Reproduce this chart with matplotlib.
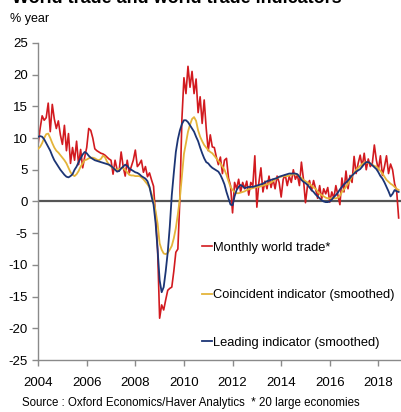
import numpy as np
import matplotlib
matplotlib.use('Agg')
import matplotlib.pyplot as plt

plt.rcParams['font.family'] = ['Liberation Sans', 'DejaVu Sans']
plt.rcParams['axes.unicode_minus'] = False

# monthly values, Jan 2004 - Nov 2018 (% year)
world_trade = [
    9.0, 11.5, 13.5, 12.8, 13.2, 15.5, 11.0, 15.3, 13.0, 11.5, 12.7, 10.5,   # 2004
    9.0, 12.0, 8.0, 10.7, 6.0, 8.5, 6.5, 9.5, 5.8, 8.2, 5.3, 7.0,           # 2005
    8.5, 11.5, 11.2, 10.0, 8.3, 8.0, 7.8, 7.6, 7.5, 7.3, 7.0, 6.7,          # 2006
    6.5, 4.3, 6.5, 5.0, 4.8, 7.8, 5.5, 4.0, 6.5, 4.5, 5.5, 6.5,             # 2007
    8.1, 5.5, 5.9, 6.5, 4.6, 5.5, 3.9, 4.5, 3.4, 2.4, -2.4, -7.6,           # 2008
    -18.4, -16.3, -17.1, -15.5, -14.0, -13.7, -13.5, -11.0, -8.0, -7.5, 0.5, 13.0,  # 2009
    19.5, 17.0, 21.3, 18.0, 20.5, 17.0, 19.3, 14.0, 16.5, 12.3, 16.0, 11.5,  # 2010
    8.0, 10.5, 8.6, 8.5, 7.0, 5.8, 7.0, 4.4, 6.5, 6.8, 3.7, 2.5,            # 2011
    -1.8, 3.0, 2.0, 3.5, 1.5, 3.0, 2.0, 3.2, 1.0, 3.0, 2.5, 7.2,            # 2012
    -0.9, 3.0, 5.3, 1.5, 3.2, 2.0, 4.0, 2.2, 3.5, 2.0, 4.0, 3.0,            # 2013
    0.7, 3.5, 4.2, 2.5, 4.0, 3.0, 5.0, 3.5, 4.2, 2.5, 6.2, 3.5,             # 2014
    -0.2, 2.5, 3.3, 1.7, 3.3, 2.0, 0.5, 2.5, 0.4, 2.0, 1.2, 2.2,            # 2015
    -0.1, 1.5, 0.5, 2.5, 1.0, -0.5, 3.7, 1.5, 4.8, 2.0, 4.1, 3.0,           # 2016
    7.1, 4.4, 6.0, 7.3, 5.5, 7.6, 5.0, 6.7, 5.5, 6.0, 8.9, 6.5,             # 2017
    5.0, 7.2, 4.1, 5.5, 7.2, 4.4, 5.9, 5.0, 2.8, 1.7, -2.6,                 # 2018
]

coincident = [
    8.3, 8.6, 9.2, 10.0, 10.6, 10.7, 10.0, 9.2, 8.5, 8.0, 7.7, 7.3,
    6.9, 6.5, 6.0, 5.3, 4.6, 4.2, 4.0, 4.3, 4.8, 5.5, 6.0, 6.5,
    6.6, 6.8, 6.9, 6.9, 6.8, 6.6, 6.5, 6.7, 7.2, 7.0, 6.3, 5.8,
    5.5, 5.3, 5.1, 5.0, 5.1, 5.3, 5.2, 5.0, 4.6, 4.2, 4.1, 4.1,
    4.0, 4.0, 4.0, 3.8, 3.5, 3.1, 2.7, 2.2, 1.2, 0.2, -1.5, -3.5,
    -6.6, -7.6, -8.2, -8.3, -8.1, -7.6, -7.0, -5.8, -4.2, -2.0, 0.5, 4.0,
    7.5, 9.2, 11.0, 12.1, 13.0, 13.3, 12.7, 11.2, 10.2, 9.5, 8.9, 8.5,
    8.1, 7.8, 7.6, 7.2, 6.8, 6.4, 6.0, 5.5, 5.0, 4.2, 3.2, 2.3,
    1.8, 1.5, 1.3, 1.3, 1.4, 1.5, 1.6, 1.8, 1.9, 2.0, 2.1, 2.2,
    2.3, 2.3, 2.4, 2.5, 2.6, 2.7, 2.8, 3.0, 3.2, 3.5, 3.7, 3.8,
    3.9, 4.0, 4.0, 4.0, 4.1, 4.2, 4.3, 4.3, 4.2, 4.0, 3.7, 3.4,
    3.2, 3.0, 2.8, 2.5, 2.2, 2.0, 1.6, 1.2, 1.0, 0.8, 0.6, 0.5,
    0.5, 0.5, 0.5, 0.5, 0.6, 0.9, 1.5, 1.9, 2.3, 2.8, 3.3, 4.0,
    4.5, 5.0, 5.3, 5.6, 5.9, 6.1, 6.2, 6.1, 6.0, 5.8, 5.6, 5.5,
    5.2, 4.8, 4.4, 3.9, 3.4, 3.1, 2.8, 2.6, 2.3, 2.0, 1.8,
]

leading = [
    10.2, 10.3, 10.2, 9.8, 9.2, 8.6, 8.0, 7.2, 6.5, 6.0, 5.5, 5.0,
    4.6, 4.2, 3.9, 3.8, 4.0, 4.3, 5.0, 5.5, 6.2, 6.8, 7.4, 7.8,
    7.6, 7.2, 6.9, 6.7, 6.5, 6.4, 6.3, 6.2, 6.1, 6.0, 5.9, 5.8,
    5.6, 5.3, 5.0, 4.7, 4.8, 5.2, 5.5, 5.8, 5.6, 5.2, 5.0, 4.8,
    4.6, 4.5, 4.3, 4.0, 3.8, 3.6, 3.2, 2.3, 0.8, -0.5, -3.4, -7.6,
    -12.4, -14.3, -13.5, -11.0, -8.0, -4.0, 1.0, 4.5, 7.8, 9.8, 11.2, 12.2,
    12.8, 12.8, 12.5, 12.0, 11.5, 11.0, 10.2, 9.5, 8.5, 7.6, 6.8, 6.2,
    6.0, 5.6, 5.3, 5.1, 4.9, 4.7, 4.2, 3.5, 2.7, 1.5, 0.5, -0.5,
    -0.6, 0.8, 1.8, 2.3, 2.6, 2.4, 2.1, 2.2, 2.3, 2.3, 2.3, 2.4,
    2.5, 2.6, 2.7, 2.8, 3.0, 3.2, 3.3, 3.4, 3.5, 3.6, 3.7, 3.9,
    4.0, 4.1, 4.2, 4.3, 4.4, 4.4, 4.4, 4.4, 4.3, 3.9, 3.4, 3.1,
    2.9, 2.6, 2.2, 1.8, 1.5, 1.1, 0.8, 0.5, 0.2, 0.0, -0.1, -0.1,
    0.0, 0.3, 0.7, 1.0, 1.4, 1.9, 2.3, 2.7, 3.0, 3.3, 3.7, 4.1,
    4.4, 4.7, 4.9, 5.1, 5.5, 5.9, 6.2, 6.2, 6.0, 5.7, 5.4, 5.1,
    4.6, 4.0, 3.6, 3.0, 2.3, 1.6, 0.8, 1.2, 1.8, 1.6, 1.5,
]

dates = 2004 + np.arange(len(world_trade)) / 12.0

fig = plt.figure(figsize=(4.01, 4.12), dpi=100)
ax = fig.add_axes([0.095, 0.126, 0.905, 0.77])

ax.axhline(0, color='#555555', lw=1.6, zorder=1)
ax.plot(dates, world_trade, color='#d21a1f', lw=1.2, label='Monthly world trade*', zorder=2)
ax.plot(dates, coincident, color='#e4b43a', lw=1.3, label='Coincident indicator (smoothed)', zorder=3)
ax.plot(dates, leading, color='#1c3575', lw=1.3, label='Leading indicator (smoothed)', zorder=4)

ax.set_xlim(2004, 2018.93)
ax.set_ylim(-25, 25)
ax.set_yticks(np.arange(-25, 26, 5))
ax.set_xticks(np.arange(2004, 2019, 2))
for s in ['top', 'right']:
    ax.spines[s].set_visible(False)
for s in ['left', 'bottom']:
    ax.spines[s].set_color('#8a8a8a')
    ax.spines[s].set_linewidth(1.0)
ax.tick_params(axis='both', colors='#8a8a8a', labelcolor='black', labelsize=9.5, length=4, width=1.0)
ax.tick_params(axis='x', pad=8)

ax.legend(loc='upper left', bbox_to_anchor=(0.437, 0.39), frameon=False, fontsize=9.3,
          handlelength=0.8, handletextpad=0.1, labelspacing=2.75, borderaxespad=0)

fig.text(0.03, 1.003, 'World trade and world trade indicators', fontsize=13, fontweight='bold', va='center')
fig.text(0.025, 0.955, '% year', fontsize=9, va='center')
fig.text(0.055, 0.022, 'Source : Oxford Economics/Haver Analytics  * 20 large economies', fontsize=8.3, va='center')

fig.savefig('out.png', dpi=100)
